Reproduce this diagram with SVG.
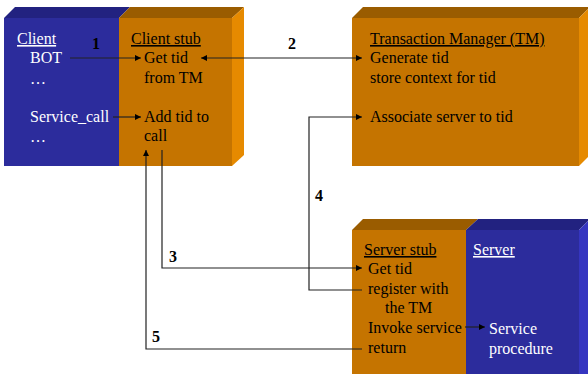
<svg xmlns="http://www.w3.org/2000/svg" width="588" height="374" viewBox="0 0 588 374">
<defs>
<style>
text{font-family:"Liberation Serif","Times New Roman",serif;font-size:16px;}
.w{fill:#ffffff;}
.k{fill:#000000;}
.u{text-decoration:underline;}
.n{font-weight:bold;font-size:16px;fill:#000;}
.bf{fill:#2c2c9c;}
.bt{fill:#222280;}
.bs{fill:#3535c0;}
.of{fill:#c57400;}
.ot{fill:#9a5c00;}
.os{fill:#e68a00;}
.c{fill:none;stroke:#222;stroke-width:1.2;}
</style>
<marker id="ah" viewBox="0 0 8 8" refX="8" refY="4" markerWidth="6" markerHeight="6" markerUnits="userSpaceOnUse" orient="auto-start-reverse">
<path d="M0,0 L8,4 L0,8 z" fill="#000"/>
</marker>
</defs>
<g id="client">
<polygon class="bt" points="4,18 15,7 130,7 119,18"/>
<rect class="bf" x="4" y="18" width="115" height="148"/>
<text class="w u" x="17" y="44">Client</text>
<text class="w" x="30" y="63">BOT</text>
<text class="w" x="30" y="84">…</text>
<text class="w" x="30" y="122">Service_call</text>
<text class="w" x="30" y="142">…</text>
</g>
<g id="client-stub">
<polygon class="ot" points="119,18 130,7 244,7 232,18"/>
<rect class="of" x="119" y="18" width="113" height="148"/>
<polygon class="os" points="232,18 244,7 244,155 232,166"/>
<text class="k u" x="131" y="44">Client stub</text>
<text class="k" x="144" y="63">Get tid</text>
<text class="k" x="144" y="83">from TM</text>
<text class="k" x="144" y="122">Add tid to</text>
<text class="k" x="144" y="141">call</text>
</g>
<g id="tm">
<polygon class="ot" points="352,18 363,7 590,7 579,18"/>
<rect class="of" x="352" y="18" width="227" height="148"/>
<polygon class="os" points="579,18 590,7 590,155 579,166"/>
<text class="k u" x="370" y="44">Transaction Manager (TM)</text>
<text class="k" x="370" y="63">Generate tid</text>
<text class="k" x="370" y="83">store context for tid</text>
<text class="k" x="370" y="122">Associate server to tid</text>
</g>
<g id="server-stub">
<polygon class="ot" points="352,230 363,219 478,219 466,230"/>
<rect class="of" x="352" y="230" width="114" height="150"/>
<text class="k u" x="364" y="255">Server stub</text>
<text class="k" x="368" y="274">Get tid</text>
<text class="k" x="368" y="294">register with</text>
<text class="k" x="385" y="313">the TM</text>
<text class="k" x="368" y="333">Invoke service</text>
<text class="k" x="368" y="353">return</text>
</g>
<g id="server">
<polygon class="bt" points="466,230 478,219 590,219 579,230"/>
<rect class="bf" x="466" y="230" width="113" height="150"/>
<polygon class="bs" points="579,230 590,219 590,380 579,380"/>
<text class="w u" x="473" y="255">Server</text>
<text class="w" x="489" y="334">Service</text>
<text class="w" x="489" y="354">procedure</text>
</g>
<g id="connectors">
<line class="c" x1="70" y1="58" x2="141" y2="58" marker-end="url(#ah)"/>
<line class="c" x1="201" y1="58" x2="362" y2="58" marker-start="url(#ah)" marker-end="url(#ah)"/>
<line class="c" x1="113" y1="117" x2="141" y2="117" marker-end="url(#ah)"/>
<polyline class="c" points="162,150 162,268 362,268" marker-end="url(#ah)"/>
<polyline class="c" points="362,290 309,290 309,117 362,117" marker-end="url(#ah)"/>
<polyline class="c" points="362,349 146,349 146,150" marker-end="url(#ah)"/>
<line class="c" x1="465" y1="327" x2="485" y2="327" marker-end="url(#ah)"/>
<text class="n" x="92" y="49">1</text>
<text class="n" x="288" y="49">2</text>
<text class="n" x="169" y="262">3</text>
<text class="n" x="315" y="201">4</text>
<text class="n" x="152" y="342">5</text>
</g>
</svg>
